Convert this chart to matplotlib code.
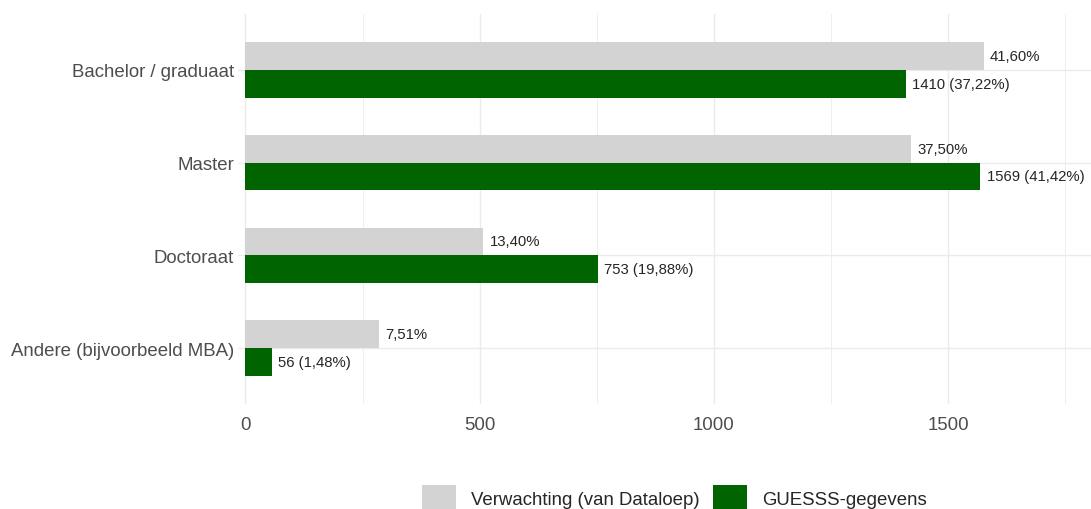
import numpy as np
import matplotlib
matplotlib.use("Agg")
from matplotlib import pyplot as plt
from matplotlib.patches import Patch
from matplotlib.ticker import MultipleLocator

plt.rcParams['font.family'] = ['Liberation Sans', 'DejaVu Sans']

categories = ["Bachelor / graduaat", "Master", "Doctoraat", "Andere (bijvoorbeeld MBA)"]
guesss_counts = [1410, 1569, 753, 56]
expected_pct = [41.60, 37.50, 13.40, 7.51]
series_names = ["Verwachting (van Dataloep)", "GUESSS-gegevens"]
x_ticks = [0, 500, 1000, 1500]

GREY = "#d3d3d3"
GREEN = "#006400"

total = sum(guesss_counts)
expected_counts = [p / 100 * total for p in expected_pct]

def nl(v):
    return "{:.2f}".format(v).replace(".", ",")

fig = plt.figure(figsize=(10.91, 5.10), dpi=100)
ax = fig.add_axes([238/1091, 105/510, 853/1091, 390/510])

y = np.arange(len(categories))[::-1] + 1  # first category at the top
h = 0.3

ax.barh(y + h/2, expected_counts, height=h, color=GREY, zorder=2)
ax.barh(y - h/2, guesss_counts, height=h, color=GREEN, zorder=2)

for yi, e, p in zip(y, expected_counts, expected_pct):
    ax.annotate(nl(p) + "%", xy=(e, yi + h/2), xytext=(4.5, 0),
                textcoords="offset points", ha='left', va='center',
                fontsize=10.7, color="#262626")
for yi, c in zip(y, guesss_counts):
    ax.annotate("{} ({}%)".format(c, nl(c / total * 100)), xy=(c, yi - h/2),
                xytext=(4.5, 0), textcoords="offset points", ha='left',
                va='center', fontsize=10.7, color="#262626")

ax.set_xlim(-16, 1805)
ax.set_ylim(0.4, 4.6)
ax.set_yticks(y)
ax.set_yticklabels(categories)
ax.set_xticks(x_ticks)
ax.set_xticklabels([str(t) for t in x_ticks])
ax.xaxis.set_minor_locator(MultipleLocator(250))
ax.tick_params(axis='both', which='both', length=0, labelsize=13.4,
               labelcolor="#4d4d4d")
ax.tick_params(axis='x', pad=9)
ax.tick_params(axis='y', pad=3)

ax.grid(True, which='major', axis='both', color="#ebebeb", linewidth=1.0, zorder=0)
ax.grid(True, which='minor', axis='x', color="#ebebeb", linewidth=0.6, zorder=0)
ax.set_axisbelow(True)
for s in ax.spines.values():
    s.set_visible(False)

handles = [Patch(facecolor=GREY, edgecolor='none'), Patch(facecolor=GREEN, edgecolor='none')]
fig.legend(handles, series_names, loc='center', bbox_to_anchor=(674.5/1091, 1 - 499/510),
           ncol=2, frameon=False, fontsize=13.4, handlelength=1.83, handleheight=1.83,
           handletextpad=0.79, columnspacing=0.72, borderpad=0, labelcolor="#262626")

fig.savefig("out.png", dpi=100)
